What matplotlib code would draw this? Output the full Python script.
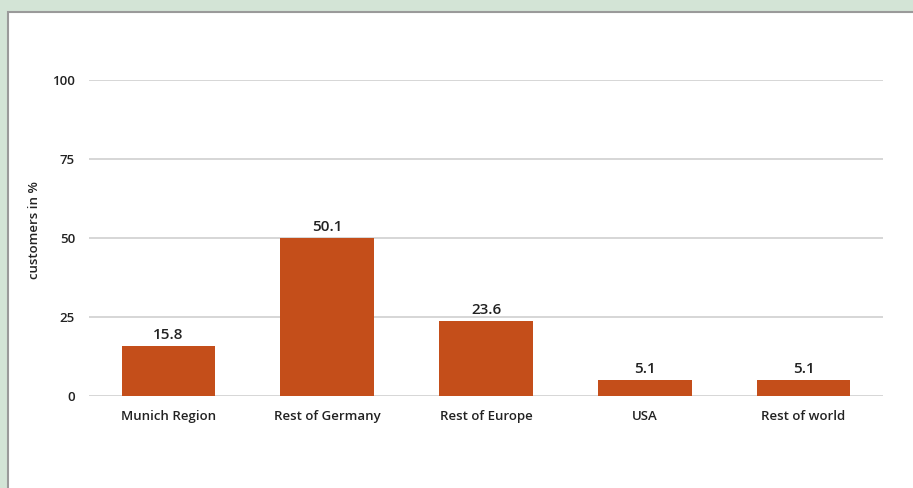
import matplotlib.pyplot as plt
from matplotlib.patches import Rectangle

categories = ['Munich Region', 'Rest of Germany', 'Rest of Europe', 'USA', 'Rest of world']
customers = [15.8, 50.1, 23.6, 5.1, 5.1]
yticks = [0, 25, 50, 75, 100]

plt.rcParams['font.family'] = ['Open Sans', 'DejaVu Sans']

W, H = 913, 488
fig = plt.figure(figsize=(W / 100, H / 100), dpi=100)
fig.patch.set_facecolor('#d3e4d6')

# white panel with grey frame, kept behind the axes
panel = Rectangle((8 / W, -0.1), 1.2, 1 - 12 / H + 0.1, transform=fig.transFigure,
                  facecolor='white', edgecolor='#9a9a9a', linewidth=1.5, zorder=-10)
fig.patches.append(panel)

ax = fig.add_axes([89 / W, 92 / H, (883 - 89) / W, (396 - 80) / H])
ax.set_facecolor('none')
ax.set_zorder(1)

x = range(len(categories))
bars = ax.bar(x, customers, width=0.59, color='#c44e1a', zorder=3)
for b, v in zip(bars, customers):
    ax.annotate(f'{v:.1f}', (b.get_x() + b.get_width() / 2, v),
                xytext=(0, 3), textcoords='offset points',
                ha='center', va='bottom', fontsize=11, fontweight='semibold',
                color='#222222')

ax.set_xlim(-0.5, len(categories) - 0.5)
ax.set_ylim(0, 100)
ax.set_yticks(yticks)
ax.set_xticks(list(x))
ax.set_xticklabels(categories)
ax.grid(axis='y', color='#d0d0d0', linewidth=1.2, zorder=0)
for s in ax.spines.values():
    s.set_visible(False)
ax.tick_params(length=0, labelsize=9.5, colors='#222222')
ax.tick_params(axis='y', pad=10)
ax.tick_params(axis='x', pad=10)
for lbl in ax.get_xticklabels() + ax.get_yticklabels():
    lbl.set_fontweight('semibold')

fig.text(35 / W, 1 - 230 / H, 'customers in %', rotation=90, ha='center', va='center',
         fontsize=9.5, fontweight='semibold', color='#222222', zorder=2)

fig.savefig('out.png', dpi=100, facecolor=fig.get_facecolor())
